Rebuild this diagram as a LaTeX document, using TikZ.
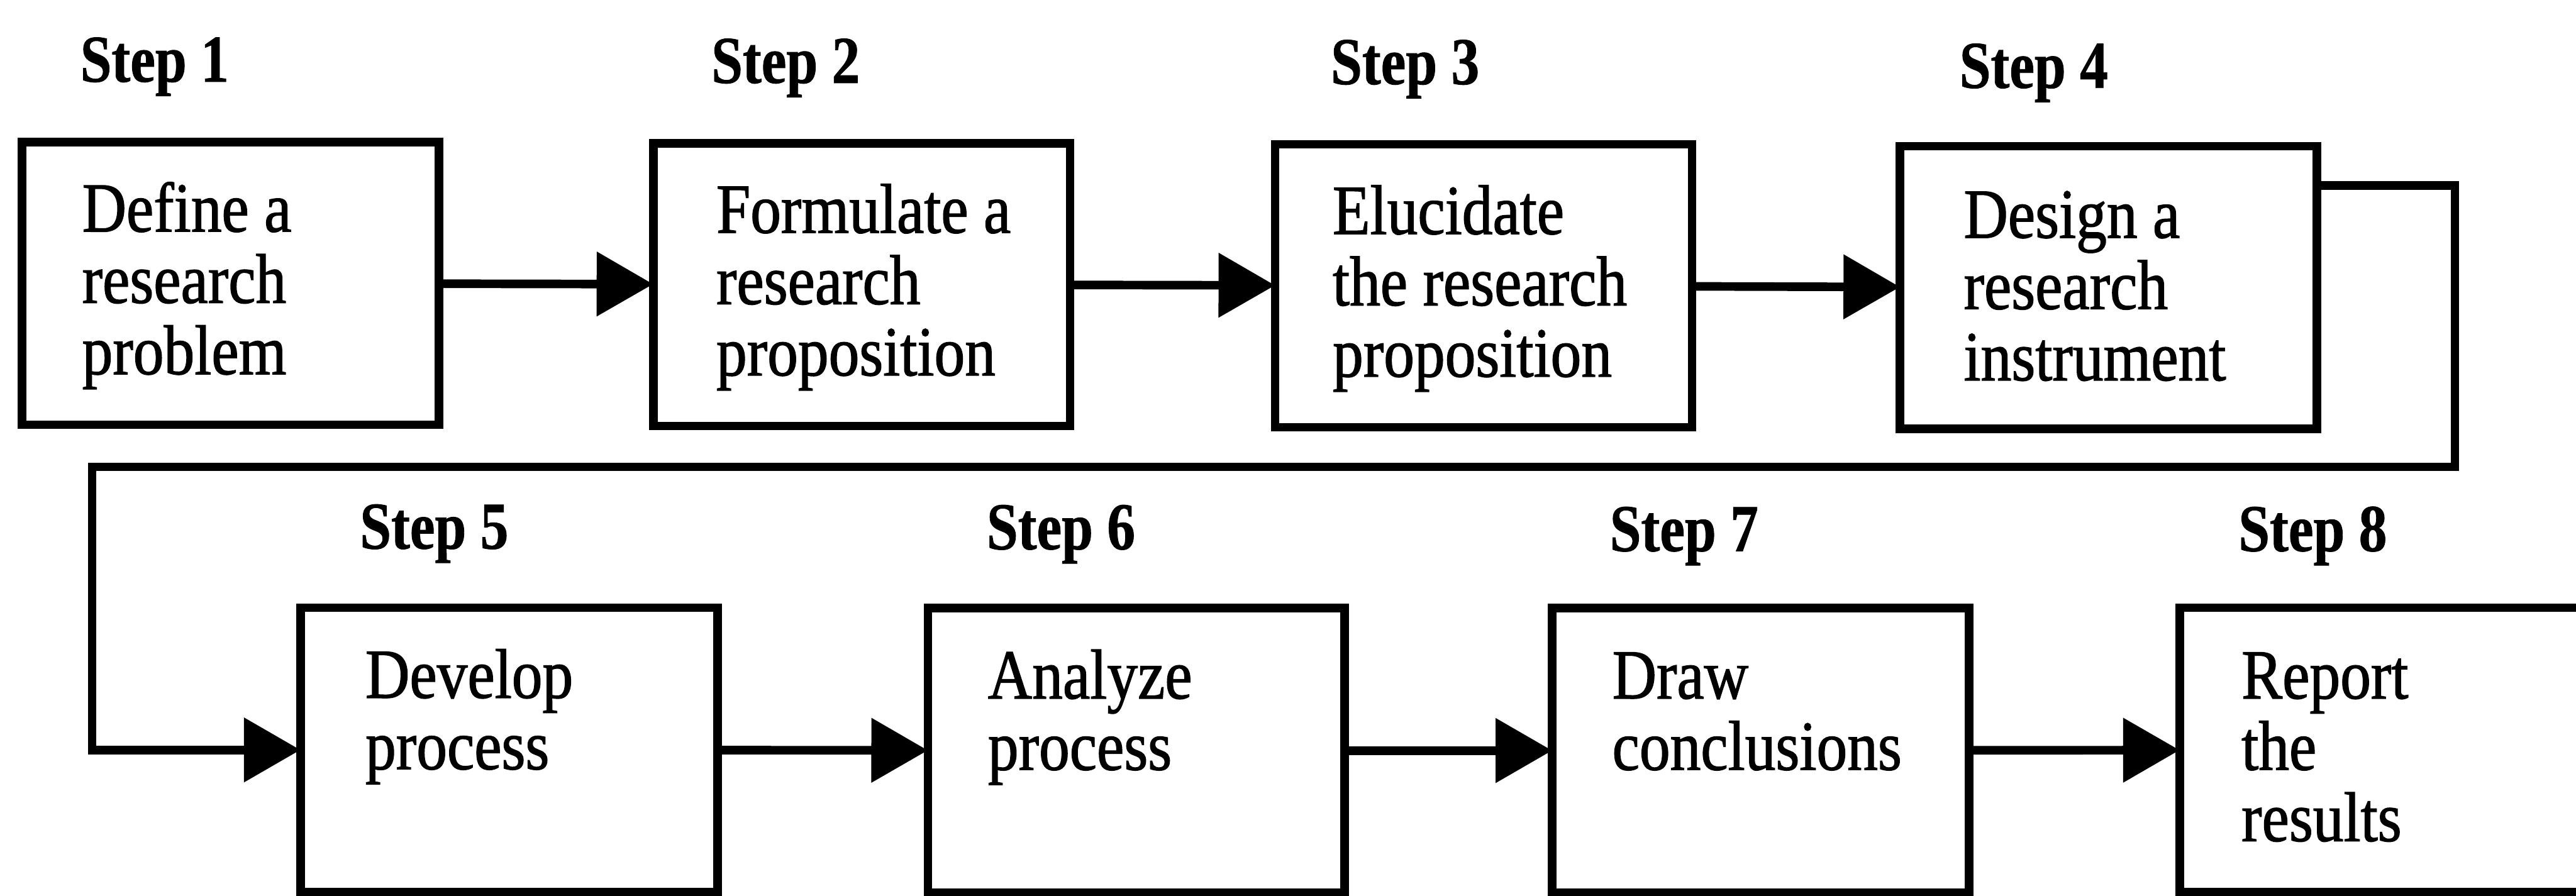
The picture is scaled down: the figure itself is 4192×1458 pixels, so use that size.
\documentclass[tikz,border=0pt]{standalone}
\usepackage{fontspec}
\setmainfont{Liberation Serif}
\newfontfamily\boxfont{Liberation Serif}[FakeStretch=0.87, FakeBold=1.2]
\newfontfamily\labelfont{Liberation Serif}[FakeStretch=0.84, FakeBold=0.8]
\usetikzlibrary{arrows.meta,calc}

\tikzset{
  stepbox/.style={draw, line width=0.14cm, minimum width=6.78cm, minimum height=4.6cm,
    outer sep=0pt, inner sep=0pt, anchor=north west},
  lowbox/.style={stepbox, minimum height=4.63cm},
  boxtext/.style={anchor=north west, inner sep=0pt, align=left,
    font=\boxfont\fontsize{32.6pt}{33pt}\selectfont},
  steplabel/.style={anchor=base west, inner sep=0pt,
    font=\labelfont\bfseries\fontsize{31pt}{33pt}\selectfont},
  flow/.style={line width=0.14cm, line join=miter,
    -{Triangle[length=0.92cm,width=1.02cm]}}
}

\begin{document}
\begin{tikzpicture}[x=0.01cm, y=-0.01cm]
  \useasboundingbox (0,0) rectangle (4192,1458);
  \fill[white] (0,0) rectangle (4192,1458);
  \clip (0,0) rectangle (4192,1458);

  % upper row of steps
  \node[stepbox] (b1) at (36,231) {};
  \node[stepbox] (b2) at (1063,233) {};
  \node[stepbox] (b3) at (2075,235) {};
  \node[stepbox] (b4) at (3092,238) {};

  % lower row of steps
  \node[lowbox] (b5) at (489,989) {};
  \node[lowbox] (b6) at (1510,990) {};
  \node[lowbox] (b7) at (2526,990) {};
  \node[lowbox] (b8) at (3547,989) {};

  % step captions
  \node[steplabel] (s1) at ($(b1.north west)+(94,-98)$) {Step 1};
  \node[steplabel] (s2) at ($(b2.north west)+(94,-98)$) {Step 2};
  \node[steplabel] (s3) at ($(b3.north west)+(90,-98)$) {Step 3};
  \node[steplabel] (s4) at ($(b4.north west)+(96,-95)$) {Step 4};
  \node[steplabel] (s5) at ($(b5.north west)+(96,-96)$) {Step 5};
  \node[steplabel] (s6) at ($(b6.north west)+(95,-96)$) {Step 6};
  \node[steplabel] (s7) at ($(b7.north west)+(93,-93)$) {Step 7};
  \node[steplabel] (s8) at ($(b8.north west)+(95,-92)$) {Step 8};

  % box contents
  \node[boxtext] (t1) at ($(b1.north west)+(97,64)$) {\strut Define a\\research\\problem};
  \node[boxtext] (t2) at ($(b2.north west)+(102,64)$) {\strut Formulate a\\research\\proposition};
  \node[boxtext] (t3) at ($(b3.north west)+(93,64)$) {\strut Elucidate\\the research\\proposition};
  \node[boxtext] (t4) at ($(b4.north west)+(103,67)$) {\strut Design a\\research\\instrument};
  \node[boxtext] (t5) at ($(b5.north west)+(105,65)$) {\strut Develop\\process};
  \node[boxtext] (t6) at ($(b6.north west)+(97,65)$) {\strut Analyze\\process};
  \node[boxtext] (t7) at ($(b7.north west)+(97,65)$) {\strut Draw\\conclusions};
  \node[boxtext] (t8) at ($(b8.north west)+(100,66)$) {\strut Report\\the\\results};

  % connectors along each row
  \draw[flow] (b1) -- (b2);
  \draw[flow] (b2) -- (b3);
  \draw[flow] (b3) -- (b4);
  \draw[flow] (b5) -- (b6);
  \draw[flow] (b6) -- (b7);
  \draw[flow] (b7) -- (b8);

  % return line from step 4 down to step 5
  \coordinate (r1) at (3995,302);
  \coordinate (r2) at (3995,760);
  \coordinate (l1) at (150,760);
  \draw[flow] (b4.east |- r1) -- (r1) -- (r2) -- (l1) |- (b5);
\end{tikzpicture}
\end{document}
